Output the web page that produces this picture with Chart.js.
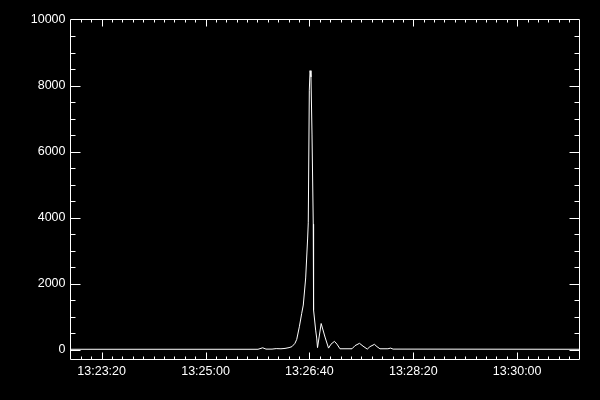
<!DOCTYPE html>
<html>
<head>
<meta charset="utf-8">
<script src="https://cdn.jsdelivr.net/npm/chart.js@4.4.1/dist/chart.umd.min.js"></script>
<style>
  html, body { margin: 0; padding: 0; background: #000; }
  #wrap { width: 600px; height: 400px; position: relative; }
</style>
</head>
<body>
<div id="wrap"><canvas id="c"></canvas></div>
<script>
// Time in seconds of day (13:22:50 = 48170)
const timeSec = [48170, 48350.5, 48355, 48358.2, 48364, 48368, 48372.6, 48376.5, 48380.4, 48383.2,
  48386.1, 48387.8, 48390.3, 48392.6, 48394.1, 48396.4, 48398.3, 48398.9, 48399.9, 48400.6,
  48401.5, 48402.5, 48403.7, 48404.0, 48406.0, 48407.0, 48407.8, 48411.3, 48415.0, 48418.4,
  48420.8, 48424.1, 48426.5, 48429.4, 48441.0, 48443.9, 48448.2, 48451.6, 48455.7, 48458.3,
  48462.6, 48465.0, 48467.9, 48475.6, 48478.2, 48480.5, 48660];
const counts = [10, 10, 55, 15, 15, 30, 25, 36, 60, 90,
  190, 310, 690, 1100, 1350, 2170, 3380, 3840, 7860, 8450,
  8260, 6530, 3800, 1200, 590, 350, 60, 790, 380, 45,
  165, 250, 165, 25, 25, 120, 190, 105, 15, 90,
  160, 90, 25, 25, 45, 15, 10];

const xRange = [48170, 48660];
const yRange = [-300, 10000];
const xTickValues = [48200, 48300, 48400, 48500, 48600];
const xTickLabels = ['13:23:20', '13:25:00', '13:26:40', '13:28:20', '13:30:00'];
const yTickValues = [0, 2000, 4000, 6000, 8000, 10000];
const yTickLabels = ['0', '2000', '4000', '6000', '8000', '10000'];

const points = timeSec.map((t, i) => ({ x: t, y: counts[i] }));

const idlBox = {
  id: 'idlBox',
  afterDatasetsDraw(chart) {
    const ctx = chart.ctx;
    const a = chart.chartArea;
    const xs = chart.scales.x, ys = chart.scales.y;
    ctx.save();
    ctx.strokeStyle = '#fff';
    ctx.lineWidth = 1;
    ctx.beginPath();
    ctx.rect(a.left, a.top, a.right - a.left, a.bottom - a.top);
    ctx.stroke();
    const h = a.bottom - a.top, w = a.right - a.left;
    const xMaj = Math.round(0.02 * h), xMin = Math.round(0.01 * h);
    const yMaj = Math.round(0.02 * w), yMin = Math.round(0.01 * w);
    ctx.beginPath();
    // x ticks: minor every 10 s, major every 100 s
    for (let t = xRange[0]; t <= xRange[1]; t += 10) {
      if (t <= xRange[0] || t >= xRange[1]) continue;
      const px = Math.round(xs.getPixelForValue(t)) + 0.5;
      const len = (t % 100 === 0) ? xMaj : xMin;
      ctx.moveTo(px, a.bottom); ctx.lineTo(px, a.bottom - len);
      ctx.moveTo(px, a.top); ctx.lineTo(px, a.top + len);
    }
    // y ticks: minor every 500, major every 2000
    for (let v = 0; v <= yRange[1]; v += 500) {
      if (v >= yRange[1]) continue;
      const py = Math.round(ys.getPixelForValue(v)) + 0.5;
      const len = (v % 2000 === 0) ? yMaj : yMin;
      ctx.moveTo(a.left, py); ctx.lineTo(a.left + len, py);
      ctx.moveTo(a.right, py); ctx.lineTo(a.right - len, py);
    }
    ctx.stroke();
    ctx.restore();
  }
};

new Chart(document.getElementById('c'), {
  type: 'line',
  data: {
    datasets: [{
      data: points,
      borderColor: '#ffffff',
      borderWidth: 1,
      pointRadius: 0,
      tension: 0,
      fill: false
    }]
  },
  options: {
    responsive: true,
    maintainAspectRatio: false,
    animation: false,
    events: [],
    layout: { padding: { left: 0, top: 19.5, right: 20.5, bottom: 0 } },
    plugins: { legend: { display: false }, tooltip: { enabled: false } },
    scales: {
      x: {
        type: 'linear',
        min: xRange[0], max: xRange[1],
        grid: { display: false, drawTicks: false },
        border: { display: false },
        afterFit(s) { s.height = 40.5; },
        afterBuildTicks(s) { s.ticks = xTickValues.map(v => ({ value: v })); },
        ticks: {
          color: '#fff',
          padding: 5,
          maxRotation: 0,
          autoSkip: false,
          font: { family: 'Liberation Sans', size: 12.5 },
          callback: (v) => xTickLabels[xTickValues.indexOf(v)]
        }
      },
      y: {
        type: 'linear',
        min: yRange[0], max: yRange[1],
        grid: { display: false, drawTicks: false },
        border: { display: false },
        afterFit(s) { s.width = 70.5; },
        afterBuildTicks(s) { s.ticks = yTickValues.map(v => ({ value: v })); },
        ticks: {
          color: '#fff',
          padding: 5,
          autoSkip: false,
          font: { family: 'Liberation Sans', size: 12.5 },
          callback: (v) => yTickLabels[yTickValues.indexOf(v)]
        }
      }
    }
  },
  plugins: [idlBox]
});
</script>
</body>
</html>
